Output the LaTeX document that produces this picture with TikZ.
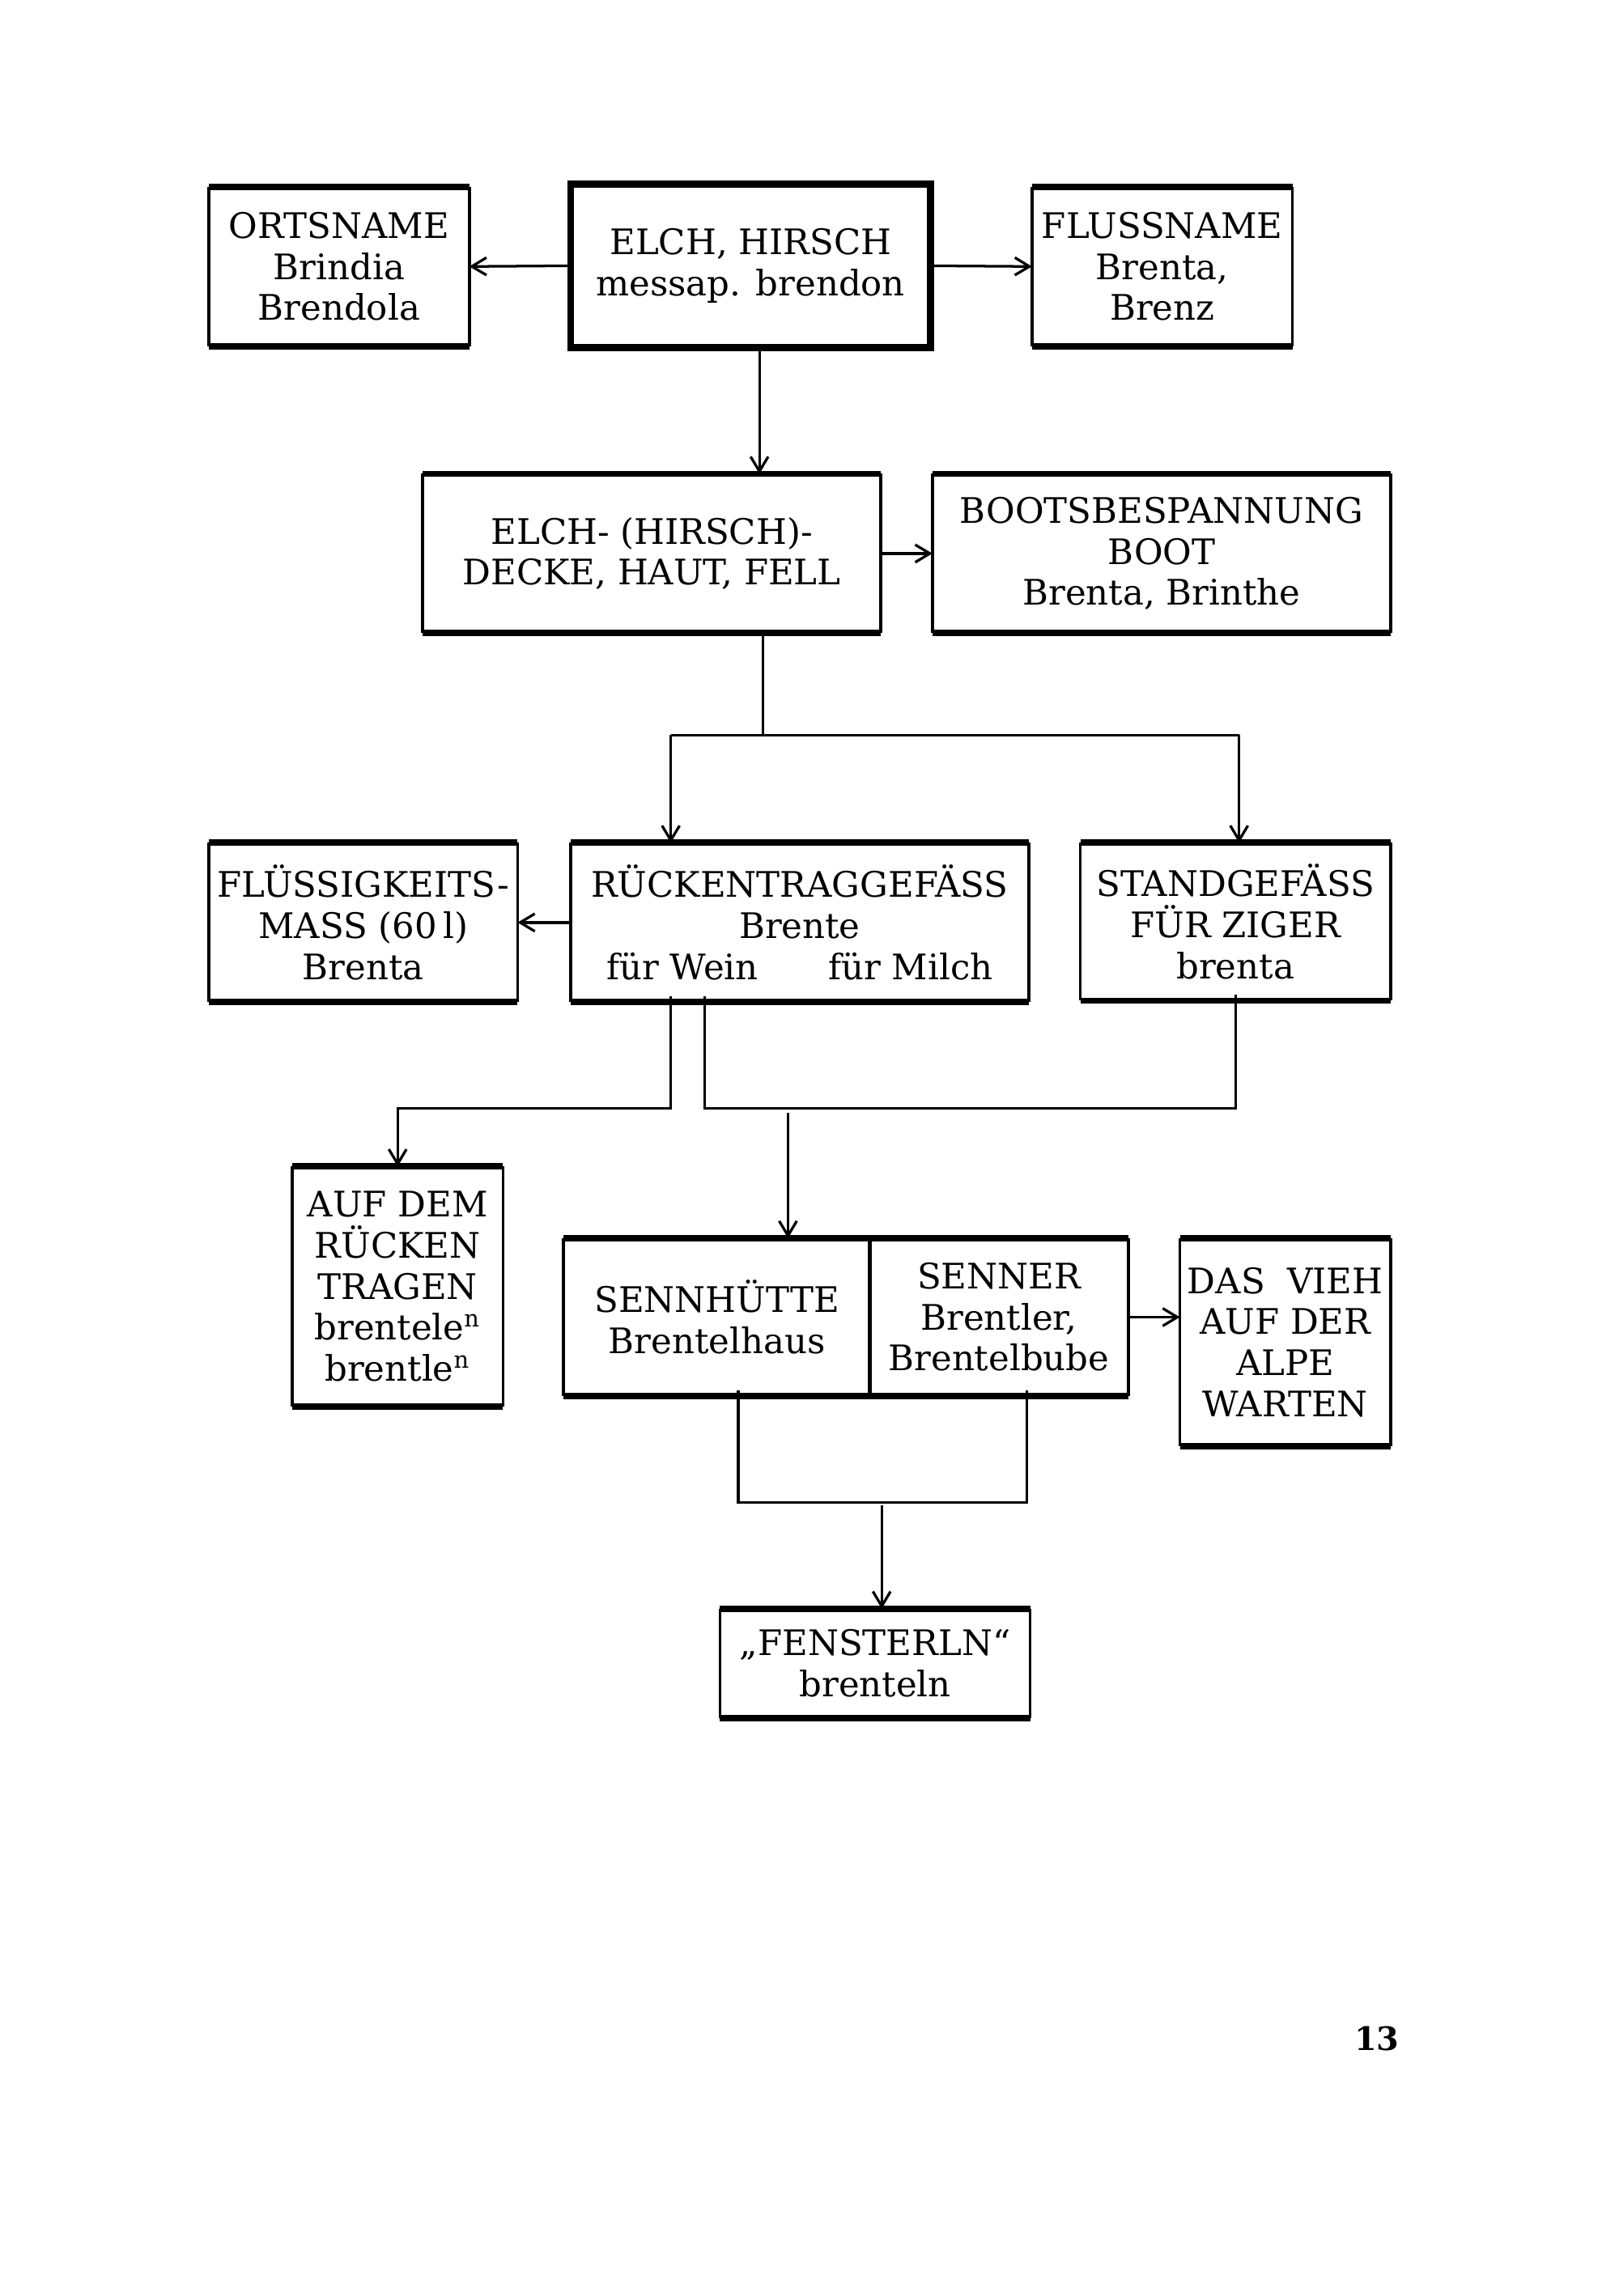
\documentclass[tikz,border=0pt]{standalone}
\usepackage{fontspec}
\setmainfont{DejaVu Serif}
\usetikzlibrary{arrows.meta}
\tikzset{
  kasten/.style 2 args={rectangle, align=center, inner sep=0pt, minimum width=#1, minimum height=#2, font=\fontsize{12}{14}\selectfont},
  leiste/.style={line width=2.2pt},
  seite/.style={line width=1pt},
  pfeil/.style={line width=0.9pt, -{Straight Barb[length=5pt,width=6pt]}},
  linie/.style={line width=0.9pt}
}
\begin{document}
\begin{tikzpicture}[x=0.5pt,y=0.5pt,yscale=-1]
  \useasboundingbox (0,0) rectangle (1105,1568);
  % first row
  \node[kasten={88.5pt}{54pt}] (orts) at (231.5,182) {ORTSNAME\\Brindia\\Brendola};
  \node[kasten={122.5pt}{55.5pt}] (elch) at (512.5,181.5) {ELCH, HIRSCH\\messap. brendon};
  \node[kasten={88.5pt}{54pt}] (fluss) at (793.5,182) {FLUSSNAME\\Brenta,\\Brenz};
  % second row
  \node[kasten={156pt}{54pt}] (haut) at (445,378) {ELCH- (HIRSCH)-\\DECKE, HAUT, FELL};
  \node[kasten={156pt}{54pt}] (boot) at (793,378) {BOOTSBESPANNUNG\\BOOT\\Brenta, Brinthe};
  % third row
  \node[kasten={105pt}{54pt}] (mass) at (248,630) {FLÜSSIGKEITS-\\MASS (60\,l)\\Brenta};
  \node[kasten={156pt}{54pt}] (rueck) at (546,630) {RÜCKENTRAGGEFÄSS\\Brente\\für Wein\hspace{2em}für Milch};
  \node[kasten={105.5pt}{53.5pt}] (stand) at (843.5,629.5) {STANDGEFÄSS\\FÜR ZIGER\\brenta};
  % fourth row
  \node[kasten={71.5pt}{81.5pt}] (tragen) at (271.5,878.5) {AUF DEM\\RÜCKEN\\TRAGEN\\brentele\textsuperscript{n}\\brentle\textsuperscript{n}};
  \node[kasten={104.5pt}{53.5pt}] (hutte) at (489.5,899.5) {SENNHÜTTE\\Brentelhaus};
  \node[kasten={88pt}{53.5pt}] (senner) at (682,899.5) {SENNER\\Brentler,\\Brentelbube};
  \node[kasten={71.5pt}{70.5pt}] (vieh) at (877.5,916.5) {DAS\ \ VIEH\\AUF DER\\ALPE\\WARTEN};
  % last row
  \node[kasten={105.5pt}{37pt}] (fenster) at (597.5,1136) {„FENSTERLN“\\brenteln};
  % page number
  \node[font=\fontsize{11}{13}\selectfont\bfseries] (seitenzahl) at (940,1392) {13};

  % frames
  \foreach \n in {orts,fluss,haut,boot,mass,rueck,stand,tragen,hutte,senner,vieh,fenster}{
    \draw[leiste] (\n.north west) -- (\n.north east);
    \draw[leiste] (\n.south west) -- (\n.south east);
    \draw[seite] (\n.north west) -- (\n.south west);
    \draw[seite] (\n.north east) -- (\n.south east);
  }
  \draw[line width=2.4pt] (elch.north west) rectangle (elch.south east);

  % connectors
  \draw[pfeil] (elch.west) -- (orts.east);
  \draw[pfeil] (elch.east) -- (fluss.west);
  \draw[pfeil] ([xshift=3pt]elch.south) -- ([xshift=3pt]elch.south |- haut.north);
  \draw[pfeil] (haut.east) -- (boot.west);

  \coordinate (gabel) at (521,502);
  \coordinate (gl) at (458,502);
  \coordinate (gr) at (846,502);
  \draw[linie] (haut.south -| gabel) -- (gabel);
  \draw[linie] (gl) -- (gr);
  \draw[pfeil] (gl) -- (gl |- rueck.north);
  \draw[pfeil] (gr) -- (gr |- stand.north);
  \draw[pfeil] (rueck.west) -- (mass.east);

  \coordinate (ul) at (458,757);
  \coordinate (ur) at (481,757);
  \coordinate (um) at (538,760);
  \draw[pfeil] ([yshift=-2pt]ul |- rueck.south) -- (ul) -| (tragen.north);
  \draw[linie] ([yshift=-2pt]ur |- rueck.south) -- (ur) -| ([yshift=-2pt]stand.south);
  \draw[pfeil] (um) -- (um |- hutte.north);
  \draw[pfeil] (senner.east) -- (senner.east -| vieh.west);

  \coordinate (fl) at (504,1026);
  \coordinate (fr) at (701,1026);
  \coordinate (fm) at (602,1028);
  \draw[linie] ([yshift=-2pt]fl |- hutte.south) -- (fl) -- (fr) -- ([yshift=-2pt]fr |- senner.south);
  \draw[pfeil] (fm) -- (fm |- fenster.north);
\end{tikzpicture}
\end{document}
